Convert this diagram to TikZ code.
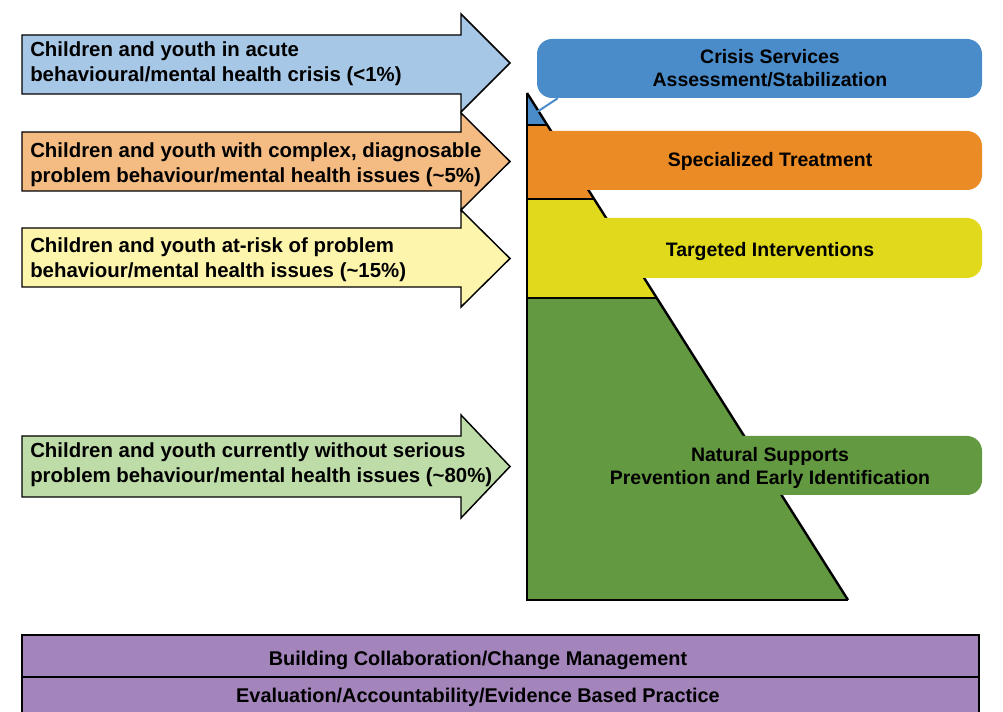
\documentclass[tikz,border=0pt]{standalone}
\usepackage{fontspec}
\setmainfont{Liberation Sans}
\definecolor{crisisC}{HTML}{4A8CCA}
\definecolor{orangeC}{HTML}{EA8B25}
\definecolor{yellowC}{HTML}{E1D91C}
\definecolor{greenC}{HTML}{639941}
\definecolor{purpleC}{HTML}{A384BB}
\definecolor{lblueC}{HTML}{A7C7E7}
\definecolor{lorangeC}{HTML}{F4BC83}
\definecolor{lyellowC}{HTML}{FEF5AD}
\definecolor{lgreenC}{HTML}{BEDCA8}
\newcommand\popArrow[6]{%
  \filldraw[arrowshape, fill=#1] (22,#2) -- (461,#2) -- (461,#4) -- (510,#6) -- (461,#5) -- (461,#3) -- (22,#3) -- cycle;}
\begin{document}
\begin{tikzpicture}[x=0.75pt,y=-0.75pt,
  arrowshape/.style={draw=black, line width=1.1pt, line join=miter},
  arrowtext/.style={font=\fontsize{15.3}{18.75}\selectfont\bfseries, align=left, inner sep=0pt, anchor=west},
  boxtext/.style={font=\fontsize{14.6}{17.25}\selectfont\bfseries, align=center, inner sep=0pt},
  purpletext/.style={font=\fontsize{14.9}{17}\selectfont\bfseries, inner sep=0pt, anchor=base},
  band/.style={rounded corners=11.25pt},
  outline/.style={draw=black, line width=1.8pt},
]
\useasboundingbox (0,0) rectangle (1003,712);
\clip (0,0) rectangle (1003,712);

% ---- left arrows
\popArrow{lblueC}{35}{94}{14}{112}{63}
\popArrow{lorangeC}{132}{191}{113}{210}{161.5}
\popArrow{lyellowC}{228}{287}{210}{307}{258.5}
\popArrow{lgreenC}{436}{497}{415}{518}{466.5}

\node[arrowtext] (a1) at (30,63.5) {Children and youth in acute\\behavioural/mental health crisis (<1\%)};
\node[arrowtext] (a2) at (30,164.5) {Children and youth with complex, diagnosable\\problem behaviour/mental health issues (\textasciitilde5\%)};
\node[arrowtext] (a3) at (30,259.5) {Children and youth at-risk of problem\\behaviour/mental health issues (\textasciitilde15\%)};
\node[arrowtext] (a4) at (30,465) {Children and youth currently without serious\\problem behaviour/mental health issues (\textasciitilde80\%)};

% ---- pyramid
\coordinate (apex) at (527,93);
\coordinate (bl) at (527,600);
\coordinate (br) at (848,600);
\fill[crisisC] (527,93) -- (547.3,125) -- (527,125) -- cycle;
\fill[orangeC] (527,125) -- (547.3,125) -- (594.1,199) -- (527,199) -- cycle;
\fill[yellowC] (527,199) -- (594.1,199) -- (656.8,298) -- (527,298) -- cycle;
\fill[greenC] (527,298) -- (656.8,298) -- (848,600) -- (527,600) -- cycle;
\draw[outline] (527,125) -- (547.3,125);
\draw[outline] (527,199) -- (594.1,199);
\draw[outline] (527,298) -- (656.8,298);
\draw[outline] (apex) -- (br);

% ---- bands
\fill[band, orangeC] (527,131) rectangle (982,190);
\fill[band, yellowC] (527,218) rectangle (982,278);
\fill[band, greenC] (527,436) rectangle (982,495);
\draw[outline, line join=miter] (br) -- (bl) -- (apex);

% ---- crisis box
\node[fill=crisisC, rounded corners=11.25pt, minimum width=333.75pt, minimum height=44.25pt, inner sep=0pt] (crisis) at (759.5,68.5) {};
\coordinate (tip) at (537,112);
\draw[crisisC, line width=1.5pt] (crisis.south west) ++(21,0) -- (tip);

\node[boxtext] (crisisT) at (770,68) {Crisis Services\\Assessment/Stabilization};
\node[boxtext, anchor=base] (specT) at (770,167) {Specialized Treatment};
\node[boxtext, anchor=base] (targT) at (770,257) {Targeted Interventions};
\node[boxtext] (natT) at (770,467.5) {Natural Supports\\Prevention and Early Identification};

% ---- purple bars
\fill[purpleC] (22,635) rectangle (979,716);
\draw[black, line width=1.5pt] (22,716) -- (22,635) -- (979,635) -- (979,716);
\draw[black, line width=1.5pt] (22,677) -- (979,677);
\node[purpletext] (p1) at (478,665) {Building Collaboration/Change Management};
\node[purpletext] (p2) at (478,702) {Evaluation/Accountability/Evidence Based Practice};
\end{tikzpicture}
\end{document}
